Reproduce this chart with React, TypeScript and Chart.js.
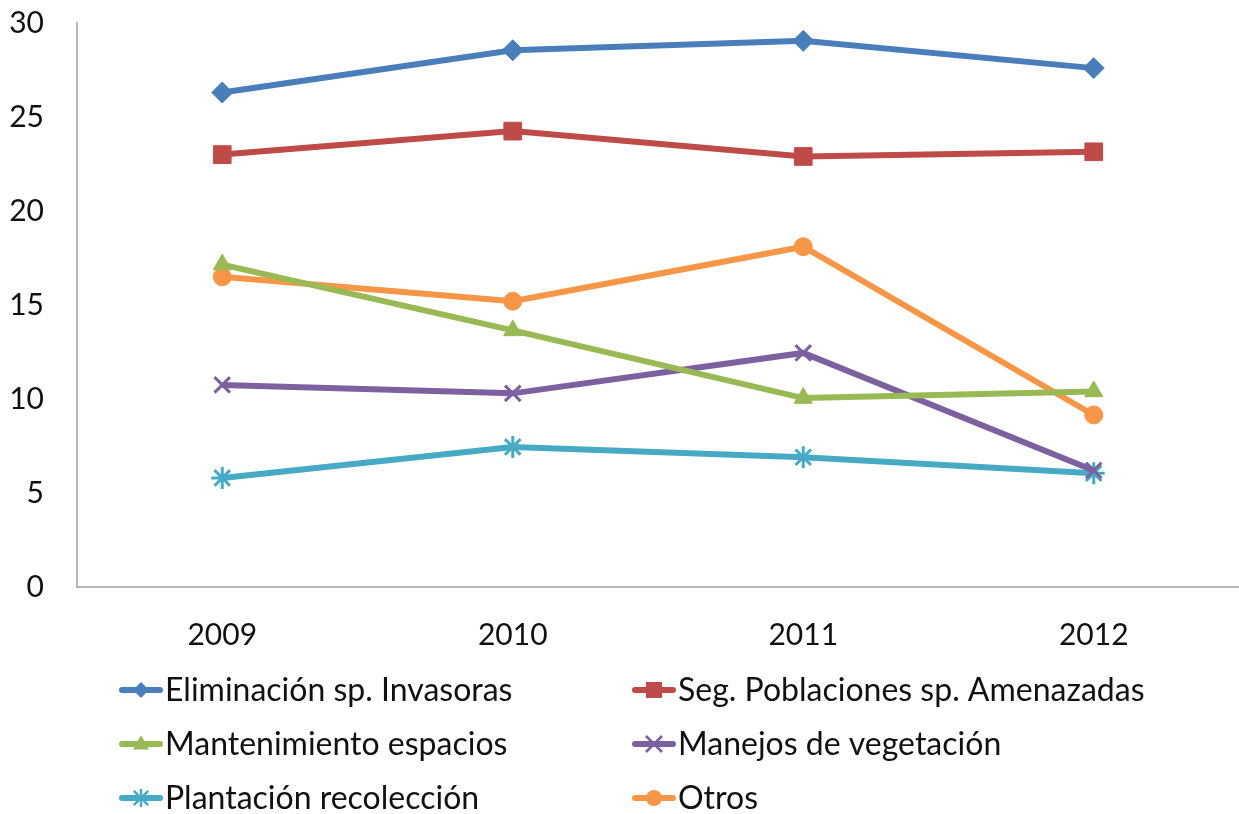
import React, { useEffect, useRef } from "react";
import { Chart, registerables } from "chart.js";

Chart.register(...registerables);

const years = ["2009", "2010", "2011", "2012"];
const yTicks = [0, 5, 10, 15, 20, 25, 30];

const eliminacion = [26.3, 28.55, 29.05, 27.6];
const seguimiento = [23.0, 24.25, 22.9, 23.15];
const mantenimiento = [17.15, 13.65, 10.05, 10.4];
const manejos = [10.75, 10.3, 12.45, 6.2];
const plantacion = [5.8, 7.45, 6.9, 6.05];
const otros = [16.5, 15.2, 18.1, 9.15];

const seriesNames = [
  "Eliminación sp. Invasoras",
  "Seg. Poblaciones sp. Amenazadas",
  "Mantenimiento espacios",
  "Manejos de vegetación",
  "Plantación recolección",
  "Otros",
];

const FONT = "Lato, 'Open Sans', sans-serif";

export default function App() {
  const ref = useRef<HTMLCanvasElement | null>(null);

  useEffect(() => {
    document.body.style.margin = "0";
    const canvas = ref.current;
    if (!canvas) return;

    const mk = (label: string, data: number[], color: string, style: any, radius: number, extra: any = {}) => ({
      label,
      data,
      borderColor: color,
      backgroundColor: color,
      pointBackgroundColor: color,
      pointBorderColor: color,
      pointStyle: style,
      pointRadius: radius,
      pointBorderWidth: 1,
      borderWidth: 6,
      tension: 0,
      ...extra,
    });

    const datasets = [
      mk(seriesNames[0], eliminacion, "#4a7ebb", "rectRot", 10.5),
      mk(seriesNames[1], seguimiento, "#be4b48", "rect", 12.5),
      mk(seriesNames[2], mantenimiento, "#98b954", "triangle", 10.5),
      mk(seriesNames[3], manejos, "#7d60a0", "crossRot", 11, { pointBorderWidth: 3 }),
      mk(seriesNames[4], plantacion, "#46aac5", "star", 11, { pointBorderWidth: 3 }),
      mk(seriesNames[5], otros, "#f79646", "circle", 9),
    ];

    function drawPt(ctx: any, style: string, r: number, x: number, y: number) {
      ctx.beginPath();
      switch (style) {
        case "rectRot":
          ctx.moveTo(x, y - r);
          ctx.lineTo(x + r, y);
          ctx.lineTo(x, y + r);
          ctx.lineTo(x - r, y);
          ctx.closePath();
          ctx.fill();
          break;
        case "rect":
          ctx.rect(x - r, y - r, 2 * r, 2 * r);
          ctx.fill();
          break;
        case "triangle":
          ctx.moveTo(x, y - r * 1.1);
          ctx.lineTo(x + r, y + r * 0.7);
          ctx.lineTo(x - r, y + r * 0.7);
          ctx.closePath();
          ctx.fill();
          break;
        case "circle":
          ctx.arc(x, y, r, 0, Math.PI * 2);
          ctx.fill();
          break;
        case "crossRot":
          ctx.moveTo(x - r, y - r);
          ctx.lineTo(x + r, y + r);
          ctx.moveTo(x + r, y - r);
          ctx.lineTo(x - r, y + r);
          ctx.stroke();
          break;
        case "star":
          ctx.moveTo(x - r * 0.8, y - r * 0.8);
          ctx.lineTo(x + r * 0.8, y + r * 0.8);
          ctx.moveTo(x + r * 0.8, y - r * 0.8);
          ctx.lineTo(x - r * 0.8, y + r * 0.8);
          ctx.moveTo(x, y - r);
          ctx.lineTo(x, y + r);
          ctx.stroke();
          break;
      }
    }

    const legendPlugin = {
      id: "customLegend",
      afterDraw(chart: any) {
        const ctx = chart.ctx;
        const cols = [122, 635];
        const rows = [690, 744, 798];
        const sizes = [8, 8, 8, 8, 9, 8];
        ctx.save();
        chart.data.datasets.forEach((ds: any, i: number) => {
          const x0 = cols[i % 2];
          const y = rows[Math.floor(i / 2)];
          ctx.strokeStyle = ds.borderColor;
          ctx.lineWidth = 6;
          ctx.lineCap = "round";
          ctx.beginPath();
          ctx.moveTo(x0, y);
          ctx.lineTo(x0 + 38, y);
          ctx.stroke();
          ctx.fillStyle = ds.borderColor;
          ctx.strokeStyle = ds.borderColor;
          ctx.lineWidth = 2.5;
          ctx.lineCap = "butt";
          drawPt(ctx, ds.pointStyle, sizes[i], x0 + 19, y);
          ctx.fillStyle = "#111111";
          ctx.font = `32px ${FONT}`;
          ctx.textBaseline = "middle";
          ctx.textAlign = "left";
          ctx.fillText(ds.label, x0 + 43, y + 1);
        });
        ctx.restore();
      },
    };

    const chart = new Chart(canvas, {
      type: "line",
      data: { labels: years, datasets: datasets as any },
      options: {
        animation: false,
        responsive: false,
        maintainAspectRatio: false,
        layout: { autoPadding: false, padding: { top: 23, right: 0, bottom: 157, left: 0 } },
        plugins: {
          legend: { display: false },
          tooltip: { enabled: false },
        },
        scales: {
          x: {
            offset: true,
            grid: { display: false, drawTicks: false },
            border: { display: true, color: "#b8b8b8", width: 2 },
            ticks: {
              color: "#111111",
              font: { family: FONT, size: 30 },
              padding: 30,
            },
            afterFit(scale: any) {
              scale.height = 70;
              scale.paddingLeft = 0;
              scale.paddingRight = 0;
            },
          },
          y: {
            min: 0,
            max: 30,
            grid: { display: false, drawTicks: false },
            border: { display: true, color: "#b8b8b8", width: 2 },
            afterBuildTicks(scale: any) {
              scale.ticks = yTicks.map((v) => ({ value: v }));
            },
            ticks: {
              color: "#111111",
              font: { family: FONT, size: 30 },
              padding: 33,
            },
            afterFit(scale: any) {
              scale.width = 77;
              scale.paddingTop = 0;
              scale.paddingBottom = 0;
            },
          },
        },
      },
      plugins: [legendPlugin],
    });

    return () => chart.destroy();
  }, []);

  return (
    <div style={{ width: 1239, height: 814 }}>
      <canvas ref={ref} width={1239} height={814} style={{ display: "block" }} />
    </div>
  );
}
